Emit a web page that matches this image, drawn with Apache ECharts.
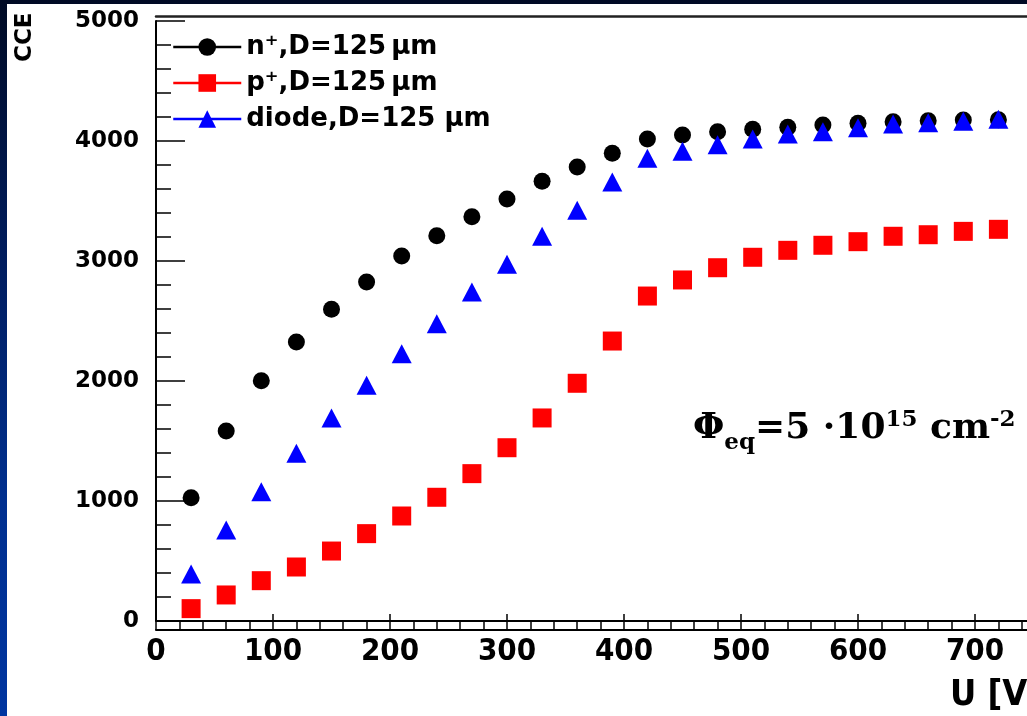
<!DOCTYPE html>
<html>
<head>
<meta charset="utf-8">
<script src="https://cdn.jsdelivr.net/npm/echarts@6/dist/echarts.min.js"></script>
<style>
  html, body { margin: 0; padding: 0; width: 1027px; height: 716px; overflow: hidden;
    background: linear-gradient(to bottom, #000a24 0%, #001c5c 35%, #002f8f 70%, #0035a0 100%); }
  #main { position: absolute; left: 7px; top: 4px; width: 1020px; height: 712px; background: #ffffff; }
</style>
</head>
<body>
<div id="main"></div>
<script>
// ---- data ----
const voltage = [30, 60, 90, 120, 150, 180, 210, 240, 270, 300, 330, 360, 390, 420, 450, 480, 510, 540, 570, 600, 630, 660, 690, 720];
const nPlusCCE = [1028, 1583, 2003, 2325, 2597, 2825, 3042, 3211, 3369, 3517, 3664, 3783, 3897, 4017, 4050, 4078, 4097, 4114, 4133, 4147, 4161, 4169, 4175, 4178];
const pPlusCCE = [103, 217, 336, 450, 583, 728, 875, 1031, 1228, 1444, 1692, 1981, 2333, 2708, 2842, 2944, 3031, 3089, 3131, 3161, 3206, 3219, 3247, 3264];
const diodeCCE = [392, 758, 1078, 1397, 1692, 1964, 2228, 2478, 2742, 2972, 3206, 3422, 3658, 3856, 3914, 3969, 4017, 4058, 4078, 4111, 4142, 4153, 4164, 4181];
const seriesNames = ['n\u207A,D=125\u2009\u00B5m', 'p\u207A,D=125\u2009\u00B5m', 'diode,D=125 \u00B5m'];
const yAxisTitle = 'CCE';
const xAxisTitle = 'U [V]';

function pairs(xs, ys) { return xs.map((x, i) => [x, ys[i]]); }

const chart = echarts.init(document.getElementById('main'), null, { renderer: 'canvas' });

const hiddenLine = { width: 0, opacity: 0 };

chart.setOption({
  animation: false,
  grid: { left: 149, top: 17, width: 936, height: 600, containLabel: false, outerBoundsMode: 'none' },
  xAxis: [
    {
      type: 'value', position: 'bottom', offset: 9, min: 0, max: 800, interval: 100,
      axisLine: { show: true, onZero: false, lineStyle: { color: '#000', width: 2 } },
      axisTick: { show: true, inside: true, length: 16, lineStyle: { color: '#000', width: 1.5 } },
      minorTick: { show: true, splitNumber: 5, length: 9, lineStyle: { color: '#000', width: 1.5 } },
      splitLine: { show: false },
      axisLabel: { show: true, margin: 6, color: '#000', formatter: v => String(v),
        fontFamily: "'Liberation Sans Narrow', 'DejaVu Sans Condensed', sans-serif", fontWeight: 'bold', fontSize: 31 }
    },
    {
      type: 'value', position: 'top', offset: 5, min: 0, max: 800, interval: 100,
      axisLine: { show: true, onZero: false, lineStyle: { color: '#222', width: 2.5 } },
      axisTick: { show: false }, axisLabel: { show: false }, splitLine: { show: false }
    }
  ],
  yAxis: {
    type: 'value', min: 0, max: 5000, interval: 1000,
    axisLine: { show: true, onZero: false, lineStyle: { color: '#000', width: 2 } },
    axisTick: { show: true, inside: true, length: 29, lineStyle: { color: '#000', width: 1.5 } },
    minorTick: { show: true, splitNumber: 5, length: 15, lineStyle: { color: '#000', width: 1.5 } },
    splitLine: { show: true, lineStyle: { width: 2, color: ['#000', 'rgba(0,0,0,0)', 'rgba(0,0,0,0)', 'rgba(0,0,0,0)', 'rgba(0,0,0,0)', 'rgba(0,0,0,0)'] } },
    axisLabel: { show: true, margin: 17, color: '#000', formatter: v => String(v),
      fontFamily: "'DejaVu Sans', sans-serif", fontWeight: 'bold', fontSize: 23 }
  },
  legend: {
    orient: 'vertical', left: 165, top: 30, padding: 0,
    itemWidth: 68, itemHeight: 22, itemGap: 10,
    data: seriesNames,
    lineStyle: { width: 2.5, opacity: 1 },
    textStyle: { color: '#000', fontFamily: "'DejaVu Sans', sans-serif", fontWeight: 'bold', fontSize: 26 }
  },
  series: [
    {
      name: seriesNames[0], type: 'line', data: pairs(voltage, nPlusCCE),
      symbol: 'circle', symbolSize: 17, showSymbol: true, showAllSymbol: true,
      itemStyle: { color: '#000' }, lineStyle: Object.assign({ color: '#000' }, hiddenLine), z: 2
    },
    {
      name: seriesNames[1], type: 'line', data: pairs(voltage, pPlusCCE),
      symbol: 'rect', symbolSize: 19, showSymbol: true, showAllSymbol: true,
      itemStyle: { color: '#ff0000' }, lineStyle: Object.assign({ color: '#ff0000' }, hiddenLine), z: 3
    },
    {
      name: seriesNames[2], type: 'line', data: pairs(voltage, diodeCCE),
      symbol: 'triangle', symbolSize: [20, 19], showSymbol: true, showAllSymbol: true,
      itemStyle: { color: '#0000ff' }, lineStyle: Object.assign({ color: '#0000ff' }, hiddenLine), z: 4
    }
  ],
  graphic: [
    {
      type: 'text', x: 18, y: 58, rotation: Math.PI / 2,
      style: { text: yAxisTitle, align: 'left', verticalAlign: 'middle', fill: '#000',
        fontFamily: "'DejaVu Sans', sans-serif", fontWeight: 'bold', fontSize: 23 }
    },
    {
      type: 'text', x: 943, y: 692,
      style: { text: xAxisTitle, align: 'left', verticalAlign: 'middle', fill: '#000',
        fontFamily: "'Liberation Sans Narrow', 'DejaVu Sans Condensed', sans-serif", fontWeight: 'bold', fontSize: 36 }
    },
    {
      type: 'text', x: 686, y: 425,
      style: {
        text: '{b|\u03A6}{sub|eq}{b|=5 \u00B710}{sup|15}{b| cm}{sup|-2}',
        align: 'left', verticalAlign: 'middle', fill: '#000',
        rich: {
          b: { fontFamily: "'DejaVu Serif', serif", fontWeight: 'bold', fontSize: 36, lineHeight: 60, verticalAlign: 'middle', fill: '#000' },
          sub: { fontFamily: "'DejaVu Serif', serif", fontWeight: 'bold', fontSize: 23, verticalAlign: 'bottom', padding: [0, 0, 4, 0], fill: '#000' },
          sup: { fontFamily: "'DejaVu Serif', serif", fontWeight: 'bold', fontSize: 23, verticalAlign: 'top', padding: [10, 0, 0, 0], fill: '#000' }
        }
      }
    }
  ]
});
</script>
</body>
</html>
